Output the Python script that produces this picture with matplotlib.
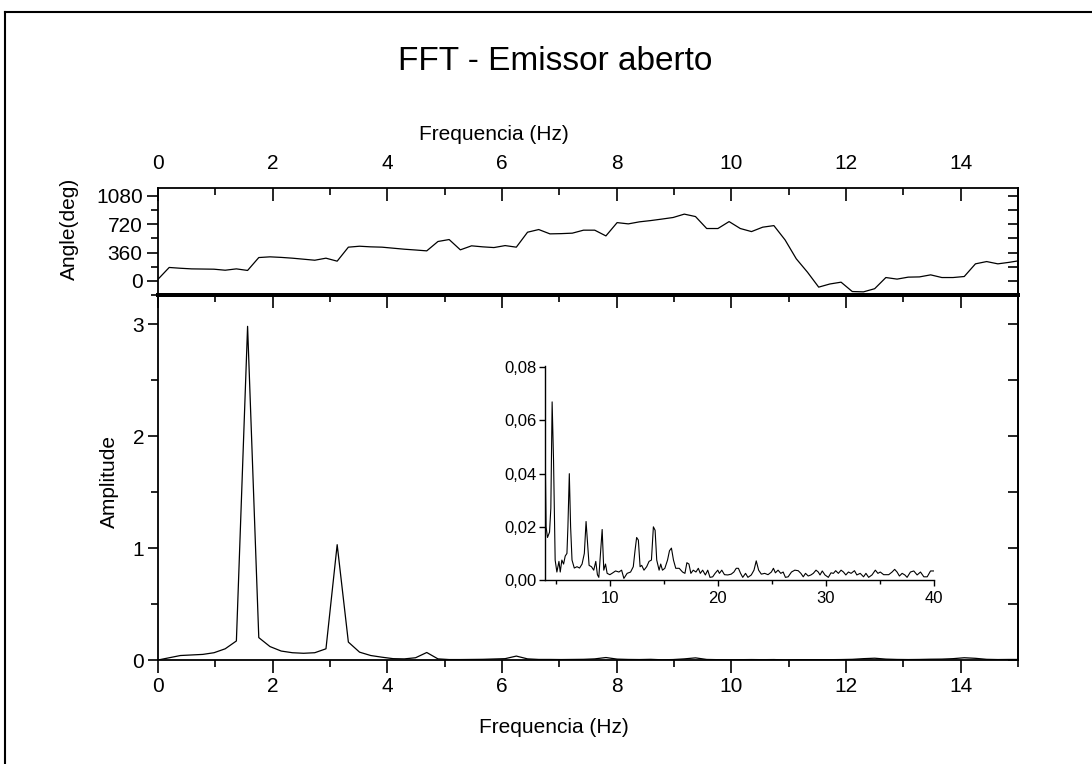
import numpy as np
import matplotlib
matplotlib.use("Agg")
import matplotlib.pyplot as plt
from matplotlib.lines import Line2D
from matplotlib.ticker import MultipleLocator, FuncFormatter

plt.rcParams['font.family'] = ['Liberation Sans', 'DejaVu Sans']

# FFT bin spacing (Hz)
df = 0.1953125

amplitude = [0.0, 0.02, 0.04, 0.045, 0.05, 0.065, 0.10, 0.17, 2.98, 0.20,
             0.12, 0.08, 0.065, 0.06, 0.065, 0.10, 1.03, 0.16, 0.07, 0.04,
             0.025, 0.012, 0.01, 0.02, 0.067, 0.01, 0.004, 0.004, 0.005, 0.006,
             0.009, 0.012, 0.035, 0.01, 0.005, 0.005, 0.004, 0.005, 0.006, 0.010,
             0.022, 0.008, 0.005, 0.004, 0.006, 0.002, 0.004, 0.010, 0.019, 0.005,
             0.003, 0.002, 0.003, 0.004, 0.003, 0.004, 0.001, 0.003, 0.003, 0.003,
             0.003, 0.004, 0.006, 0.012, 0.016, 0.008, 0.005, 0.004, 0.005, 0.007,
             0.008, 0.012, 0.020, 0.015, 0.006, 0.004, 0.005, 0.005]

angle = [20, 170, 160, 152, 150, 148, 135, 152, 132, 296,
         305, 298, 288, 275, 262, 288, 250, 428, 440, 432,
         428, 415, 402, 392, 381, 500, 525, 394, 445, 432,
         423, 448, 428, 618, 652, 597, 600, 606, 644, 644,
         571, 740, 724, 750, 766, 785, 805, 848, 817, 665,
         665, 753, 665, 626, 682, 702, 520, 280, 110, -80,
         -40, -17, -136, -140, -100, 42, 22, 47, 50, 76,
         42, 42, 55, 216, 245, 216, 235, 258]

freq = np.arange(len(amplitude)) * df

# inset: amplitude detail 4-40 Hz
inset_freq = [3.92, 3.97, 4.1, 4.23, 4.42, 4.54, 4.66, 4.79, 4.94, 5.1,
              5.29, 5.41, 5.56, 5.72, 5.87, 6.03, 6.12, 6.25, 6.37, 6.5,
              6.71, 6.96, 7.2, 7.43, 7.64, 7.8, 7.92, 8.08, 8.3, 8.51,
              8.7, 8.85, 8.98, 9.13, 9.29, 9.44, 9.6, 9.75, 10.0, 10.2,
              10.53, 10.84, 11.09, 11.3, 11.6, 11.92, 12.17, 12.33, 12.48, 12.64,
              12.8, 12.95, 13.16, 13.41, 13.63, 13.85, 14.03, 14.19, 14.34, 14.56,
              14.71, 14.87, 15.09, 15.34, 15.52, 15.7, 15.89, 16.1, 16.42, 16.73,
              16.95, 17.13, 17.32, 17.5, 17.72, 17.97, 18.19, 18.37, 18.59, 18.84,
              19.06, 19.27, 19.52, 19.74, 19.99, 20.14, 20.36, 20.61, 20.92, 21.23,
              21.48, 21.7, 21.9, 22.1, 22.3, 22.56, 22.78, 23.09, 23.34, 23.55,
              23.77, 24.02, 24.33, 24.64, 24.95, 25.14, 25.32, 25.57, 25.82, 26.04,
              26.25, 26.5, 26.81, 27.12, 27.43, 27.68, 27.9, 28.11, 28.36, 28.61,
              28.83, 29.08, 29.29, 29.45, 29.66, 29.91, 30.22, 30.47, 30.69, 30.9,
              31.15, 31.4, 31.62, 31.84, 32.08, 32.33, 32.64, 32.86, 33.17, 33.48,
              33.7, 33.95, 34.26, 34.57, 34.81, 35.03, 35.34, 35.81, 36.12, 36.36,
              36.58, 36.8, 37.05, 37.3, 37.51, 37.82, 38.13, 38.44, 38.75, 39.06,
              39.37, 39.68, 40.0]
inset_amp = [0.080, 0.065, 0.020, 0.016, 0.018, 0.027, 0.067, 0.045, 0.0075, 0.003,
             0.007, 0.003, 0.0075, 0.006, 0.009, 0.010, 0.020, 0.040, 0.020, 0.0075,
             0.0045, 0.005, 0.0045, 0.006, 0.010, 0.022, 0.015, 0.0055, 0.005, 0.0037,
             0.007, 0.002, 0.001, 0.010, 0.019, 0.0037, 0.006, 0.0025, 0.002, 0.0025,
             0.0034, 0.003, 0.0037, 0.0006, 0.0025, 0.003, 0.005, 0.011, 0.016, 0.015,
             0.005, 0.0055, 0.0037, 0.005, 0.007, 0.0075, 0.020, 0.0187, 0.0075, 0.0037,
             0.006, 0.0037, 0.0044, 0.0075, 0.011, 0.012, 0.0075, 0.0044, 0.0044, 0.003,
             0.0025, 0.0065, 0.006, 0.0025, 0.0037, 0.003, 0.0044, 0.0025, 0.0037, 0.0019,
             0.0037, 0.001, 0.0012, 0.0025, 0.0037, 0.0025, 0.0037, 0.002, 0.0019, 0.0022,
             0.003, 0.0044, 0.0044, 0.0025, 0.001, 0.0025, 0.001, 0.0019, 0.0037, 0.0072,
             0.0037, 0.0022, 0.0025, 0.002, 0.003, 0.0044, 0.0027, 0.0037, 0.0025, 0.003,
             0.001, 0.0012, 0.003, 0.0037, 0.0035, 0.0025, 0.0012, 0.0025, 0.0015, 0.0019,
             0.0025, 0.0037, 0.003, 0.0019, 0.0034, 0.0019, 0.001, 0.0027, 0.0025, 0.0035,
             0.0025, 0.0037, 0.003, 0.0019, 0.003, 0.0025, 0.0035, 0.0019, 0.0025, 0.0012,
             0.0025, 0.001, 0.0019, 0.0037, 0.0025, 0.003, 0.002, 0.002, 0.003, 0.004,
             0.003, 0.0015, 0.0025, 0.0019, 0.001, 0.003, 0.0034, 0.0019, 0.003, 0.0012,
             0.0012, 0.0034, 0.0034]

W, H = 1092, 764
fig = plt.figure(figsize=(W / 100, H / 100), dpi=100)

def fx(px):
    return px / W

def fy(py):
    return 1 - py / H

# scanned page frame (top + left edge)
fig.add_artist(Line2D([fx(5), fx(5)], [0, fy(12)], transform=fig.transFigure, color='black', lw=1.5))
fig.add_artist(Line2D([fx(5), 1], [fy(12), fy(12)], transform=fig.transFigure, color='black', lw=1.5))

fig.text(fx(555), fy(62), "FFT - Emissor aberto", ha='center', va='center', fontsize=24)

left, right = 158, 1018
ax_top = fig.add_axes([fx(left), fy(295), fx(right - left), (295 - 188) / H])
ax_bot = fig.add_axes([fx(left), fy(660), fx(right - left), (660 - 295) / H])

lbl = 15
tick_kw = dict(labelsize=lbl, width=1.2)

# ---- phase panel ----
ax_top.plot(freq, angle, color='black', lw=0.9)
ax_top.set_xlim(0, 15)
ax_top.set_ylim(-180, 1180)
ax_top.xaxis.set_major_locator(MultipleLocator(2))
ax_top.xaxis.set_minor_locator(MultipleLocator(1))
ax_top.yaxis.set_major_locator(MultipleLocator(360))
ax_top.yaxis.set_minor_locator(MultipleLocator(180))
ax_top.set_yticks([0, 360, 720, 1080])
ax_top.tick_params(axis='x', which='both', direction='in', top=True, bottom=False,
                   labeltop=True, labelbottom=False, pad=11, **tick_kw)
ax_top.tick_params(axis='x', which='major', length=9)
ax_top.tick_params(axis='x', which='minor', length=5, width=1.2)
ax_top.tick_params(axis='y', which='both', direction='out', left=True, right=False, pad=3, **tick_kw)
ax_top.tick_params(axis='y', which='major', length=8)
ax_top.tick_params(axis='y', which='minor', length=5, width=1.2)
ax_top.xaxis.set_label_position('top')
ax_top.set_xlabel("Frequencia (Hz)", fontsize=lbl)
ax_top.xaxis.set_label_coords(0.39, 1.45)
ax_top.set_ylabel("Angle(deg)", fontsize=lbl)
ax_top.yaxis.set_label_coords(-0.092, 0.62)
sec = ax_top.secondary_yaxis('right')
sec.yaxis.set_major_locator(MultipleLocator(180))
sec.tick_params(axis='y', direction='in', length=7, width=1.2, labelright=False)
for s in ['top', 'left', 'right']:
    ax_top.spines[s].set_linewidth(1.3)
ax_top.spines['bottom'].set_linewidth(2.8)
sec.spines['right'].set_linewidth(1.3)

# ---- amplitude panel ----
ax_bot.plot(freq, amplitude, color='black', lw=0.9)
ax_bot.set_xlim(0, 15)
ax_bot.set_ylim(0, 3.26)
ax_bot.xaxis.set_major_locator(MultipleLocator(2))
ax_bot.xaxis.set_minor_locator(MultipleLocator(1))
ax_bot.yaxis.set_major_locator(MultipleLocator(1))
ax_bot.yaxis.set_minor_locator(MultipleLocator(0.5))
ax_bot.tick_params(axis='x', which='both', direction='out', top=False, pad=3, **tick_kw)
ax_bot.tick_params(axis='x', which='major', length=9)
ax_bot.tick_params(axis='x', which='minor', length=5, width=1.2)
ax_bot.tick_params(axis='y', which='both', direction='out', right=False, pad=3, **tick_kw)
ax_bot.tick_params(axis='y', which='major', length=7)
ax_bot.tick_params(axis='y', which='minor', length=5, width=1.2)
ax_bot.set_xlabel("Frequencia (Hz)", fontsize=lbl)
ax_bot.xaxis.set_label_coords(0.46, -0.16)
ax_bot.set_ylabel("Amplitude", fontsize=lbl)
ax_bot.yaxis.set_label_coords(-0.045, 0.49)
sec_r = ax_bot.secondary_yaxis('right')
sec_r.yaxis.set_major_locator(MultipleLocator(0.5))
sec_r.tick_params(axis='y', direction='in', length=7, width=1.2, labelright=False)
sec_t = ax_bot.secondary_xaxis('top')
sec_t.xaxis.set_major_locator(MultipleLocator(2))
sec_t.xaxis.set_minor_locator(MultipleLocator(1))
sec_t.tick_params(axis='x', which='major', direction='in', length=9, width=1.2, labeltop=False)
sec_t.tick_params(axis='x', which='minor', direction='in', length=5, width=1.2)
for s in ['bottom', 'left', 'right']:
    ax_bot.spines[s].set_linewidth(1.3)
ax_bot.spines['top'].set_linewidth(2.8)
sec_r.spines['right'].set_linewidth(1.3)
sec_t.spines['top'].set_linewidth(2.8)

# ---- inset ----
ax_in = fig.add_axes([fx(545), fy(580), fx(934 - 545), (580 - 366) / H])
ax_in.patch.set_alpha(0)
ax_in.plot(inset_freq, inset_amp, color='black', lw=0.8)
ax_in.set_xlim(4, 40)
ax_in.set_ylim(0, 0.0805)
ax_in.set_yticks([0.0, 0.02, 0.04, 0.06, 0.08])
ax_in.xaxis.set_major_locator(MultipleLocator(10))
ax_in.xaxis.set_minor_locator(MultipleLocator(5))
ax_in.yaxis.set_major_formatter(FuncFormatter(lambda v, p: f"{v:.2f}".replace('.', ',')))
for s in ['top', 'right']:
    ax_in.spines[s].set_visible(False)
for s in ['bottom', 'left']:
    ax_in.spines[s].set_linewidth(1.0)
ax_in.tick_params(axis='both', which='major', direction='out', length=4, width=1.0, labelsize=12, pad=2)
ax_in.tick_params(axis='x', which='major', pad=4)
ax_in.tick_params(axis='x', which='minor', direction='out', length=3, width=1.0)

fig.savefig("out.png", dpi=100)
